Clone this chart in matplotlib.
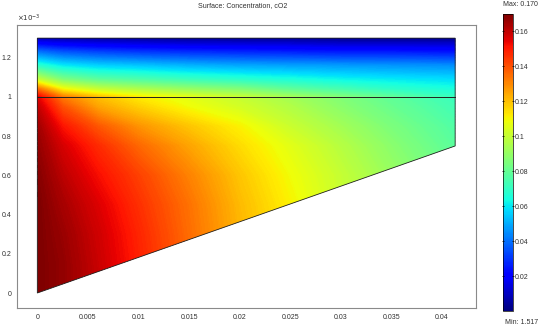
import numpy as np
import matplotlib
matplotlib.use("Agg")
import matplotlib.pyplot as plt
from matplotlib.patches import Polygon
from matplotlib.colors import Normalize
from matplotlib.cm import ScalarMappable

plt.rcParams['font.family'] = ['Liberation Sans', 'DejaVu Sans']

# ---- data ----
x_cols = [0.0, 0.0025, 0.006, 0.01, 0.015, 0.02, 0.025, 0.03, 0.035, 0.0413]
y_rows = [0.0, 0.15, 0.30, 0.45, 0.60, 0.75, 0.85, 0.95, 1.00, 1.04, 1.09, 1.16, 1.23, 1.30]  # x1e-3
conc = [
    [0.170, 0.167, 0.160, 0.150, 0.137, 0.125, 0.115, 0.105, 0.095, 0.086],
    [0.170, 0.167, 0.159, 0.149, 0.136, 0.124, 0.114, 0.104, 0.094, 0.085],
    [0.170, 0.166, 0.158, 0.148, 0.135, 0.122, 0.112, 0.102, 0.093, 0.083],
    [0.170, 0.164, 0.156, 0.146, 0.134, 0.121, 0.111, 0.101, 0.092, 0.082],
    [0.169, 0.161, 0.152, 0.143, 0.131, 0.119, 0.109, 0.100, 0.091, 0.081],
    [0.167, 0.157, 0.147, 0.136, 0.125, 0.115, 0.106, 0.097, 0.088, 0.078],
    [0.165, 0.151, 0.139, 0.128, 0.119, 0.111, 0.101, 0.093, 0.085, 0.076],
    [0.160, 0.140, 0.125, 0.117, 0.109, 0.103, 0.096, 0.088, 0.081, 0.073],
    [0.155, 0.132, 0.120, 0.112, 0.106, 0.100, 0.093, 0.086, 0.079, 0.071],
    [0.135, 0.110, 0.100, 0.095, 0.090, 0.086, 0.079, 0.074, 0.069, 0.065],
    [0.100, 0.085, 0.078, 0.075, 0.071, 0.068, 0.065, 0.062, 0.060, 0.058],
    [0.068, 0.060, 0.056, 0.054, 0.051, 0.049, 0.048, 0.047, 0.046, 0.045],
    [0.040, 0.035, 0.032, 0.030, 0.028, 0.027, 0.026, 0.025, 0.025, 0.024],
    [0.008, 0.006, 0.005, 0.004, 0.003, 0.003, 0.003, 0.002, 0.002, 0.002],
]
domain_x = [0.0, 0.0413, 0.0413, 0.0]
domain_y = [0.0, 0.75, 1.30, 1.30]
interface_y = 1.0
x_ticks = [0, 0.005, 0.01, 0.015, 0.02, 0.025, 0.03, 0.035, 0.04]
x_ticklabels = ['0', '0.005', '0.01', '0.015', '0.02', '0.025', '0.03', '0.035', '0.04']
y_ticks = [0, 0.2, 0.4, 0.6, 0.8, 1.0, 1.2]
y_ticklabels = ['0', '0.2', '0.4', '0.6', '0.8', '1', '1.2']
cb_ticks = [0.02, 0.04, 0.06, 0.08, 0.10, 0.12, 0.14, 0.16]
cb_ticklabels = ['0.02', '0.04', '0.06', '0.08', '0.1', '0.12', '0.14', '0.16']
vmin, vmax = 0.0, 0.170

W, H = 541, 334
fig = plt.figure(figsize=(W / 100, H / 100), dpi=100)
ax = fig.add_axes([17 / W, 1 - 308 / H, (476 - 17) / W, (308 - 25) / H])
cax = fig.add_axes([503 / W, 1 - 311 / H, 10 / W, (311 - 14) / H])

X, Y = np.meshgrid(x_cols, y_rows)
Z = np.array(conc)
levels = np.linspace(vmin, vmax, 400)
cs = ax.contourf(X, Y, Z, levels=levels, cmap='jet', vmin=vmin, vmax=vmax,
                 antialiased=False, extend='both')
poly = Polygon(np.column_stack([domain_x, domain_y]), closed=True,
               facecolor='none', edgecolor='#202020', linewidth=0.6, zorder=3)
ax.add_patch(poly)
cs.set_clip_path(poly)
ax.plot([domain_x[0], domain_x[1]], [interface_y, interface_y], color='#202020', lw=0.7, zorder=4)

ax.set_xlim(-0.00201, 0.04336)
ax.set_ylim(-0.0765, 1.367)
ax.set_xticks(x_ticks)
ax.set_xticklabels(x_ticklabels)
ax.set_yticks(y_ticks)
ax.set_yticklabels(y_ticklabels)
ax.tick_params(length=0, labelsize=5, pad=4, labelcolor='#303030')
for s in ax.spines.values():
    s.set_color('#8a8a8a')
    s.set_linewidth(0.8)
ax.text(0.0, 1.005, r'$\times10^{-3}$', transform=ax.transAxes, fontsize=5, ha='left', va='bottom',
        color='#303030')

sm = ScalarMappable(norm=Normalize(vmin, vmax), cmap='jet')
cb = fig.colorbar(sm, cax=cax, ticks=cb_ticks)
cb.set_ticklabels(cb_ticklabels)
cax.tick_params(labelsize=5, length=2, width=0.5, pad=0.5, direction='inout', left=True, right=True,
                labelcolor='#303030')
cb.outline.set_linewidth(0.5)

fig.text(243 / W, 1 - 6 / H, 'Surface: Concentration, cO2', fontsize=5, ha='center', va='center',
         color='#303030')
fig.text(503 / W, 1 - 5 / H, 'Max: 0.170', fontsize=5, ha='left', va='center', color='#303030')
fig.text(505 / W, 1 - 322 / H, 'Min: 1.517', fontsize=5, ha='left', va='center', color='#303030')

fig.savefig('out.png', dpi=100)
